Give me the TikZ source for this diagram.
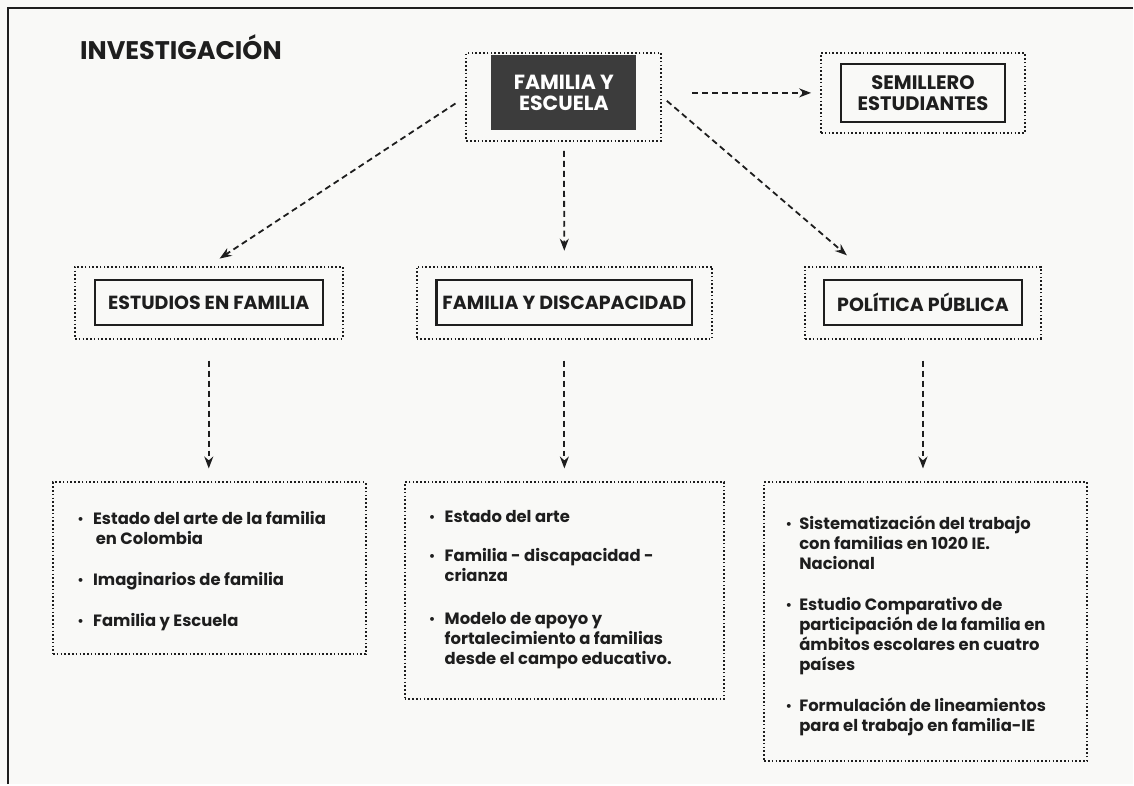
\documentclass[tikz,border=0pt]{standalone}
\usepackage{fontspec}
\setmainfont{Poppins}
\newfontfamily\dotfont{DejaVu Sans}
\usetikzlibrary{arrows.meta}
\definecolor{paper}{HTML}{F9F9F7}
\definecolor{ink}{HTML}{1E1E1E}
\definecolor{slate}{HTML}{3C3C3C}
\newcommand{\bul}{\makebox[7pt]{\raisebox{0.5pt}{\dotfont\fontsize{11}{11}\selectfont •}}}
\begin{document}
\begin{tikzpicture}[x=1pt,y=-1pt,
  outer/.style={draw=ink, line width=2pt, dash pattern=on 1.6pt off 2.2pt, inner sep=0pt},
  inner/.style={draw=ink, line width=2.2pt, font=\fontsize{19}{22}\selectfont\bfseries, text=ink, align=center, inner sep=0pt},
  link/.style={draw=ink, line width=1.8pt, dash pattern=on 6pt off 4pt, -{Stealth[length=12pt,width=9pt]}},
  list/.style={text=ink, font=\fontsize{16.4}{20}\selectfont\bfseries, anchor=base west, inner sep=0pt}]

% paper and frame
\fill[paper] (0,0) rectangle (1134,785);
\draw[ink, line width=2.5pt] (8,785) -- (8,8) -- (1134,8);

\node[text=ink, font=\fontsize{25.5}{30}\selectfont\bfseries, anchor=base west, inner sep=0pt] (title) at (80,60) {INVESTIGACIÓN};

% top
\node[outer, minimum width=195, minimum height=88] (famO) at (564.5,97) {};
\node[fill=slate, draw=none, text=white, font=\fontsize{20.5}{21}\selectfont\bfseries, align=center, minimum width=145, minimum height=75, inner sep=0pt] (fam) at (564.5,92.5) {FAMILIA Y\\ESCUELA};
\node[outer, minimum width=204, minimum height=80] (semO) at (924,93) {};
\node[inner, minimum width=164, minimum height=58, font=\fontsize{19.5}{21}\selectfont\bfseries] (sem) at (924,93) {SEMILLERO\\ESTUDIANTES};

% lines of research
\node[outer, minimum width=268, minimum height=72] (estO) at (209,303) {};
\node[inner, minimum width=228, minimum height=45] (est) at (209,303) {ESTUDIOS EN FAMILIA};
\node[outer, minimum width=296, minimum height=72] (disO) at (565,303) {};
\node[inner, minimum width=256, minimum height=45] (dis) at (565,303) {FAMILIA Y DISCAPACIDAD};
\node[outer, minimum width=236, minimum height=72] (polO) at (924,303) {};
\node[inner, minimum width=198, minimum height=45] (pol) at (924,303) {POLÍTICA PÚBLICA};

% projects
\node[outer, minimum width=313, minimum height=172] (estB) at (209.5,569) {};
\node[outer, minimum width=320, minimum height=217] (disB) at (565,591.5) {};
\node[outer, minimum width=323, minimum height=279] (polB) at (926.5,622.5) {};

\node[list] (estL) at (77,525) {\begin{tabular}[t]{@{}c@{\hspace{9pt}}l@{}}
\bul & Estado del arte de la familia\\
 & \,en Colombia\\[21pt]
\bul & Imaginarios de familia\\[21pt]
\bul & Familia y Escuela
\end{tabular}};
\node[list] (disL) at (429,523) {\begin{tabular}[t]{@{}c@{\hspace{9pt}}l@{}}
\bul & Estado del arte\\[19pt]
\bul & Familia - discapacidad -\\
 & crianza\\[23pt]
\bul & Modelo de apoyo y\\
 & fortalecimiento a familias\\
 & desde el campo educativo.
\end{tabular}};
\node[list] (polL) at (786,530) {\begin{tabular}[t]{@{}c@{\hspace{7pt}}l@{}}
\bul & Sistematización del trabajo\\
 & con familias en 1020 IE.\\
 & Nacional\\[21pt]
\bul & Estudio Comparativo de\\
 & participación de la familia en\\
 & ámbitos escolares en cuatro\\
 & países\\[21pt]
\bul & Formulación de lineamientos\\
 & para el trabajo en familia-IE
\end{tabular}};

% connectors
\draw[link, shorten <=12pt, shorten >=13pt] (famO.west) -- (estO.north);
\draw[link, shorten <=9pt, shorten >=15pt] (famO.south) -- (disO.north);
\draw[link, shorten <=6pt, shorten >=16pt] (famO.east) -- (polO.150);
\draw[link, shorten <=30pt, shorten >=9pt] (famO.east |- semO.west) -- (semO.west);
\draw[link, shorten <=21pt, shorten >=13pt] (estO.south) -- (estO.south |- estB.north);
\draw[link, shorten <=21pt, shorten >=13pt] (disO.south) -- (disO.south |- disB.north);
\draw[link, shorten <=21pt, shorten >=13pt] (polO.south) -- (polO.south |- polB.north);
\end{tikzpicture}
\end{document}
